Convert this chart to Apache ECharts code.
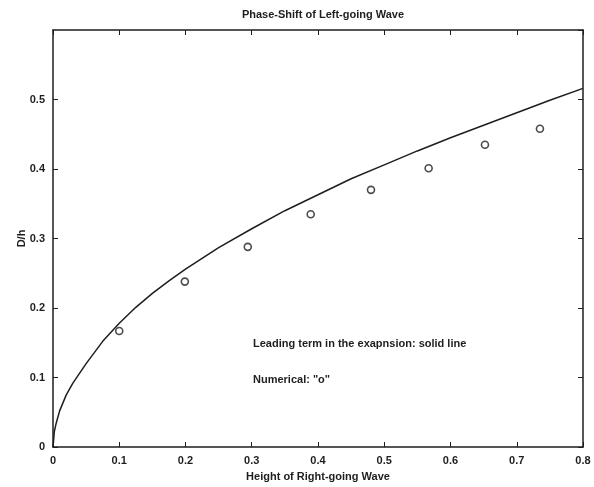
<!DOCTYPE html>
<html><head><meta charset="utf-8">
<script src="https://cdn.jsdelivr.net/npm/echarts@6/dist/echarts.min.js"></script>
<style>html,body{margin:0;padding:0;background:#fff}#c{width:594px;height:487px}</style>
</head><body><div id="c"></div>
<script>
// Leading-term curve
var curveX = [0, 0.002, 0.005, 0.01, 0.02, 0.03, 0.04, 0.05, 0.075, 0.1, 0.125, 0.15, 0.175, 0.2, 0.25, 0.3, 0.35, 0.4, 0.45, 0.5, 0.55, 0.6, 0.65, 0.7, 0.75, 0.8];
var curveY = [0, 0.022, 0.035, 0.052, 0.075, 0.092, 0.106, 0.120, 0.152, 0.178, 0.201, 0.221, 0.239, 0.256, 0.287, 0.314, 0.340, 0.363, 0.386, 0.406, 0.426, 0.445, 0.463, 0.481, 0.499, 0.516];
// Numerical points "o"
var numX = [0.100, 0.199, 0.294, 0.389, 0.480, 0.567, 0.652, 0.735];
var numY = [0.167, 0.238, 0.288, 0.335, 0.370, 0.401, 0.435, 0.458];
var titleText = 'Phase-Shift of Left-going Wave';
var xName = 'Height of Right-going Wave';
var yName = 'D/h';
var note1 = 'Leading term in the exapnsion: solid line';
var note2 = 'Numerical: "o"';

var ink = '#1e1e1e';
var font = 'Liberation Sans';
var chart = echarts.init(document.getElementById('c'), null, {renderer: 'canvas'});
function zip(a, b) { return a.map(function (v, i) { return [v, b[i]]; }); }
var axisCommon = {
  type: 'value',
  axisLine: {show: true, onZero: false, lineStyle: {color: ink, width: 1.5}},
  axisTick: {show: true, inside: true, length: 5, lineStyle: {color: ink, width: 1}},
  splitLine: {show: false},
  axisLabel: {color: ink, fontFamily: font, fontWeight: 'bold', fontSize: 11}
};
chart.setOption({
  animation: false,
  backgroundColor: '#fff',
  title: {text: titleText, left: 318, top: 4, textAlign: 'center',
    textStyle: {color: ink, fontFamily: font, fontWeight: 'bold', fontSize: 11}},
  grid: {left: 53, right: 11, top: 30, bottom: 40},
  xAxis: [
    Object.assign({}, axisCommon, {min: 0, max: 0.8, interval: 0.1, position: 'bottom',
      name: xName, nameLocation: 'middle', nameGap: 24, nameMoveOverlap: false,
      nameTextStyle: {color: ink, fontFamily: font, fontWeight: 'bold', fontSize: 11},
      axisLabel: Object.assign({}, axisCommon.axisLabel, {margin: 8, formatter: function (v) { return +v.toFixed(1) + ''; }})}),
    Object.assign({}, axisCommon, {min: 0, max: 0.8, interval: 0.1, position: 'top',
      axisLabel: {show: false}})
  ],
  yAxis: [
    Object.assign({}, axisCommon, {min: 0, max: 0.6, interval: 0.1, position: 'left',
      name: yName, nameLocation: 'middle', nameGap: 26, nameRotate: 90, nameMoveOverlap: false,
      nameTextStyle: {color: ink, fontFamily: font, fontWeight: 'bold', fontSize: 11},
      axisLabel: Object.assign({}, axisCommon.axisLabel, {margin: 8, showMaxLabel: false,
        formatter: function (v) { return +v.toFixed(1) + ''; }})}),
    Object.assign({}, axisCommon, {min: 0, max: 0.6, interval: 0.1, position: 'right',
      axisLabel: {show: false}})
  ],
  graphic: [
    {type: 'text', left: 253, top: 338, style: {text: note1, fill: ink, font: 'bold 11px "Liberation Sans"'}},
    {type: 'text', left: 253, top: 374, style: {text: note2, fill: ink, font: 'bold 11px "Liberation Sans"'}}
  ],
  series: [
    {type: 'line', data: zip(curveX, curveY), showSymbol: false, smooth: false,
      lineStyle: {color: ink, width: 1.5}, xAxisIndex: 0, yAxisIndex: 0},
    {type: 'scatter', data: zip(numX, numY), symbol: 'circle', symbolSize: 7,
      itemStyle: {color: '#fff', borderColor: ink, borderWidth: 1.6}, xAxisIndex: 0, yAxisIndex: 0}
  ]
});
</script></body></html>
